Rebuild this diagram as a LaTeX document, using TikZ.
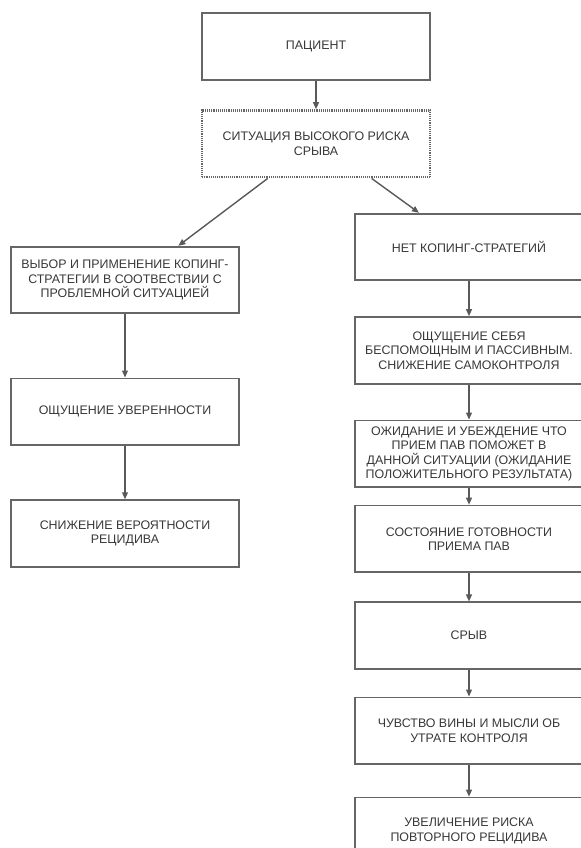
\documentclass[tikz,border=0pt]{standalone}
\usepackage{fontspec}
\setmainfont{Liberation Sans}
\usetikzlibrary{arrows.meta, positioning}

\begin{document}
\begin{tikzpicture}[
    node distance=1cm,
    box/.style={rectangle, draw=black!60, line width=1.5pt, minimum width=6.85cm, minimum height=2cm, align=center, font=\fontsize{10.6}{12.4}\selectfont, text=black!78, inner sep=1pt},
    riskbox/.style={box, dash pattern=on 0.8pt off 0.8pt, line width=2.2pt},
    arrow/.style={-{Triangle[length=6pt, width=5pt]}, line width=1.2pt, draw=black!65},
]
\useasboundingbox (0,0) rectangle (17.4,-25.44);

% верх
\node[box] (patient) at (9.48,-1.4) {ПАЦИЕНТ};
\node[riskbox, below=0.85cm of patient] (risk) {СИТУАЦИЯ ВЫСОКОГО РИСКА\\СРЫВА};

% левая ветвь
\node[box] (choice) at (3.75,-8.4) {ВЫБОР И ПРИМЕНЕНИЕ КОПИНГ-\\СТРАТЕГИИ В СООТВЕСТВИИ С\\ПРОБЛЕМНОЙ СИТУАЦИЕЙ};
\node[box, below=1.9cm of choice] (confidence) {ОЩУЩЕНИЕ УВЕРЕННОСТИ};
\node[box, below=1.6cm of confidence] (lowrisk) {СНИЖЕНИЕ ВЕРОЯТНОСТИ\\РЕЦИДИВА};

% правая ветвь
\node[box] (nocoping) at (14.07,-7.41) {НЕТ КОПИНГ-СТРАТЕГИЙ};
\node[box, below=1.05cm of nocoping] (helpless) {ОЩУЩЕНИЕ СЕБЯ\\БЕСПОМОЩНЫМ И ПАССИВНЫМ.\\СНИЖЕНИЕ САМОКОНТРОЛЯ};
\node[box, below=1.05cm of helpless] (expect) {ОЖИДАНИЕ И УБЕЖДЕНИЕ ЧТО\\ПРИЕМ ПАВ ПОМОЖЕТ В\\ДАННОЙ СИТУАЦИИ (ОЖИДАНИЕ\\ПОЛОЖИТЕЛЬНОГО РЕЗУЛЬТАТА)};
\node[box, below=0.5cm of expect] (ready) {СОСТОЯНИЕ ГОТОВНОСТИ\\ПРИЕМА ПАВ};
\node[box, below=0.85cm of ready] (lapse) {СРЫВ};
\node[box, below=0.8cm of lapse] (guilt) {ЧУВСТВО ВИНЫ И МЫСЛИ ОБ\\УТРАТЕ КОНТРОЛЯ};
\node[box, below=0.95cm of guilt] (highrisk) {УВЕЛИЧЕНИЕ РИСКА\\ПОВТОРНОГО РЕЦИДИВА};

% стрелки
\draw[arrow] (patient) -- (risk);
\draw[arrow] ([xshift=-1.45cm]risk.south) -- ([xshift=1.6cm]choice.north);
\draw[arrow] ([xshift=1.67cm]risk.south) -- ([xshift=-1.5cm]nocoping.north);
\draw[arrow] (choice) -- (confidence);
\draw[arrow] (confidence) -- (lowrisk);
\draw[arrow] (nocoping) -- (helpless);
\draw[arrow] (helpless) -- (expect);
\draw[arrow] (expect) -- (ready);
\draw[arrow] (ready) -- (lapse);
\draw[arrow] (lapse) -- (guilt);
\draw[arrow] (guilt) -- (highrisk);

\end{tikzpicture}
\end{document}
